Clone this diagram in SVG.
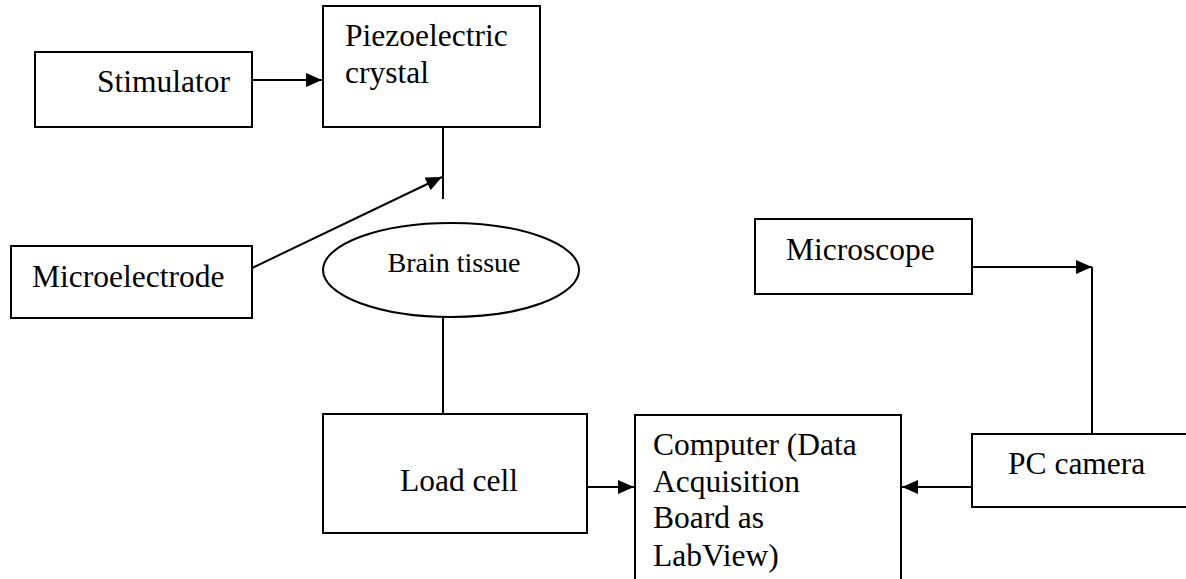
<svg xmlns="http://www.w3.org/2000/svg" width="1186" height="579" viewBox="0 0 1186 579">
<style>
.box{fill:#fff;stroke:#000;stroke-width:2}
.lbl{font-family:"Liberation Serif","Times New Roman",serif;font-size:31.5px;fill:#000}
.sm{font-size:28px}
.con{fill:none;stroke:#000;stroke-width:2}
</style>
<defs>
<marker id="ah" markerWidth="17" markerHeight="14" refX="16" refY="7" orient="auto" markerUnits="userSpaceOnUse">
<path d="M0,0 L16,7 L0,14 Z" fill="#000"/>
</marker>
</defs>
<rect width="1186" height="579" fill="#fff"/>
<g id="connectors">
<line class="con" x1="252" y1="80" x2="322" y2="80" marker-end="url(#ah)"/>
<line class="con" x1="443" y1="127" x2="443" y2="199"/>
<line class="con" x1="252" y1="268" x2="442" y2="177" marker-end="url(#ah)"/>
<line class="con" x1="443" y1="317" x2="443" y2="414"/>
<line class="con" x1="587" y1="487" x2="634" y2="487" marker-end="url(#ah)"/>
<line class="con" x1="972" y1="487" x2="902" y2="487" marker-end="url(#ah)"/>
<line class="con" x1="1092" y1="434" x2="1092" y2="267"/>
<line class="con" x1="972" y1="267" x2="1092" y2="267" marker-end="url(#ah)"/>
</g>
<g id="stimulator">
<rect class="box" x="35" y="52" width="217" height="75"/>
<text class="lbl" x="97" y="92">Stimulator</text>
</g>
<g id="piezo">
<rect class="box" x="323" y="6" width="217" height="121"/>
<text class="lbl" x="345" y="46">Piezoelectric</text>
<text class="lbl" x="345" y="83">crystal</text>
</g>
<g id="microelectrode">
<rect class="box" x="11" y="246" width="241" height="72"/>
<text class="lbl" x="32" y="287">Microelectrode</text>
</g>
<g id="brain">
<ellipse class="box" cx="451" cy="270" rx="128" ry="47"/>
<text class="lbl sm" x="454" y="272" text-anchor="middle">Brain tissue</text>
</g>
<g id="loadcell">
<rect class="box" x="323" y="414" width="264" height="119"/>
<text class="lbl" x="400" y="491">Load cell</text>
</g>
<g id="computer">
<rect class="box" x="635" y="415" width="266" height="180"/>
<text class="lbl" x="653" y="455">Computer (Data</text>
<text class="lbl" x="653" y="492">Acquisition</text>
<text class="lbl" x="653" y="528">Board as</text>
<text class="lbl" x="653" y="566">LabView)</text>
</g>
<g id="microscope">
<rect class="box" x="755" y="219" width="217" height="75"/>
<text class="lbl" x="786" y="260">Microscope</text>
</g>
<g id="pccamera">
<rect class="box" x="972" y="434" width="225" height="73"/>
<text class="lbl" x="1008" y="474">PC camera</text>
</g>
</svg>
